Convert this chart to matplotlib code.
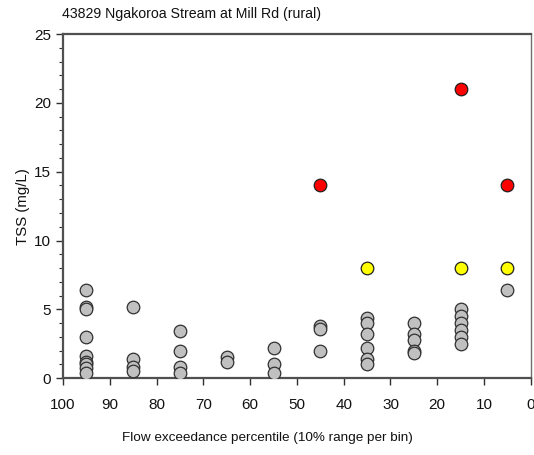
import matplotlib
matplotlib.use("Agg")
import matplotlib.pyplot as plt
from matplotlib.ticker import MultipleLocator

plt.rcParams['font.family'] = ['Liberation Sans', 'DejaVu Sans']

# TSS samples grouped by flow-exceedance bin (bin centre -> values, mg/L)
bins = [95, 85, 75, 65, 55, 45, 35, 25, 15, 5]
tss_samples = {
    95: [6.4, 5.2, 5.0, 3.0, 1.6, 1.2, 1.0, 0.7, 0.4],
    85: [5.2, 1.4, 0.8, 0.5],
    75: [3.4, 2.0, 0.8, 0.4],
    65: [1.5, 1.2],
    55: [2.2, 1.0, 0.4],
    45: [3.8, 3.6, 2.0],
    35: [4.4, 4.0, 3.2, 2.2, 1.4, 1.0],
    25: [4.0, 3.2, 2.8, 2.0, 1.8],
    15: [5.0, 4.5, 4.0, 3.5, 3.0, 2.5],
    5: [6.4],
}
# bin statistics highlighted in colour
yellow_bins = [35, 15, 5]
yellow_vals = [8, 8, 8]
red_bins = [45, 15, 5]
red_vals = [14, 21, 14]

fig = plt.figure(figsize=(5.34, 4.55), dpi=100)
ax = fig.add_axes([0.118, 0.169, 0.876, 0.756])

gx = [b for b in bins for _ in tss_samples[b]]
gy = [v for b in bins for v in tss_samples[b]]
ms = 82
ax.scatter(gx, gy, s=ms, c='#c0c0c0', edgecolors='#303030', linewidths=0.9, zorder=3)
ax.scatter(yellow_bins, yellow_vals, s=ms, c='#ffff00', edgecolors='#202020', linewidths=0.9, zorder=4)
ax.scatter(red_bins, red_vals, s=ms, c='#ff0000', edgecolors='#202020', linewidths=0.9, zorder=4)

ax.set_xlim(100, 0)
ax.set_ylim(0, 25)
ax.xaxis.set_major_locator(MultipleLocator(10))
ax.yaxis.set_major_locator(MultipleLocator(5))
ax.yaxis.set_minor_locator(MultipleLocator(1))

for side in ['left', 'bottom', 'top']:
    ax.spines[side].set_color('#505050')
    ax.spines[side].set_linewidth(1.6)
ax.spines['right'].set_color('#707070')
ax.spines['right'].set_linewidth(1.0)

ax.tick_params(axis='both', which='major', direction='out', length=5, width=1,
               color='#303030', labelsize=11, labelcolor='#111111')
ax.tick_params(axis='y', which='minor', direction='out', length=3, width=0.8, color='#303030')
ax.tick_params(axis='x', pad=9)

ax.set_ylabel('TSS (mg/L)', fontsize=10.8, color='#111111', labelpad=3)
fig.text(0.5, 1 - 438 / 455, 'Flow exceedance percentile (10% range per bin)', fontsize=9.7,
         color='#111111', ha='center', va='center')
fig.text(0.116, 1 - 14 / 455, '43829 Ngakoroa Stream at Mill Rd (rural)', fontsize=10.2,
         color='#111111', ha='left', va='center')

fig.savefig('out.png', dpi=100)
